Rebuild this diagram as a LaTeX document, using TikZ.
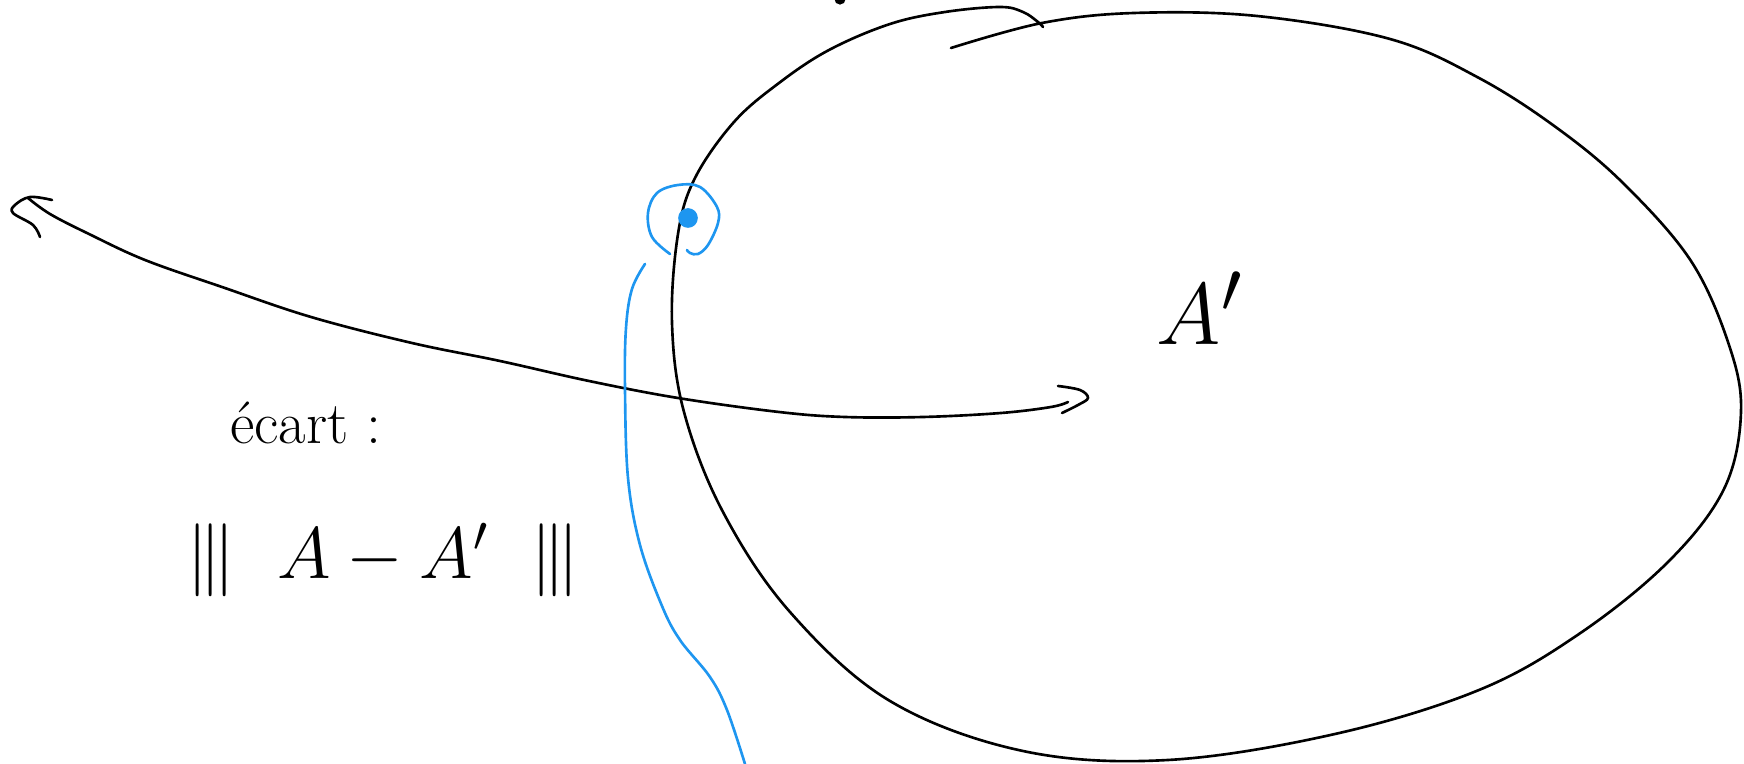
\documentclass[tikz,border=0pt]{standalone}
\definecolor{penblue}{RGB}{30,150,240}
\newcommand{\tribar}{|\mkern-1.6mu|\mkern-1.6mu|}
\begin{document}
\begin{tikzpicture}[smooth,tension=0.6,x=0.01cm,y=-0.01cm,line width=0.75pt,line cap=round,line join=round]
	\useasboundingbox (0,0) rectangle (1744,764);
	% contour
	\draw plot coordinates {(951,48) (1042,23) (1134,13) (1257,16) (1390,39) (1479,78) (1557,128) (1624,184) (1691,261) (1729,345) (1741,412) (1724,489) (1668,562) (1579,634) (1479,690) (1335,734) (1168,760) (1023,751) (890,701) (790,612) (723,512) (684,412) (672,323) (678,234) (695,178) (734,122) (779,83) (829,50) (890,24) (945,12) (1000,7) (1023,12) (1038,22) (1043,27)};
	\fill (840,-1) circle(1.6pt);
	% fleche
	\draw plot coordinates {(28,198) (50,214) (89,234) (145,260) (222,287) (311,317) (412,343) (500,361) (589,381) (678,398) (779,412) (845,417) (923,417) (1001,413) (1051,407) (1068,402)};
	\draw plot coordinates {(52,200) (30,197) (15,205) (13,213) (33,225) (40,237)};
	\draw plot coordinates {(1058,386) (1080,390) (1088,398) (1078,405) (1062,413)};
	% point bleu
	\fill[penblue] (688,218) circle(2.8pt);
	\draw[penblue] plot coordinates {(670,254) (652,237) (648,213) (657,193) (678,185) (700,187) (717,207) (718,223) (708,245) (698,254) (690,253) (687,250)};
	\draw[penblue] plot coordinates {(645,264) (632,289) (626,328) (625,389) (628,478) (640,545) (662,606) (680,640) (710,677) (727,710) (745,764)};
	% textes
	\node (ecart) at (306,423) {\fontsize{17}{19}\selectfont écart :};
	\node (norme) at (383,560) {\fontsize{20}{22}\selectfont $\tribar\hspace{12pt} A - A' \hspace{12pt}\tribar$};
	\node (Aprime) at (1200,308) {\fontsize{30}{32}\selectfont $A'$};
\end{tikzpicture}
\end{document}
